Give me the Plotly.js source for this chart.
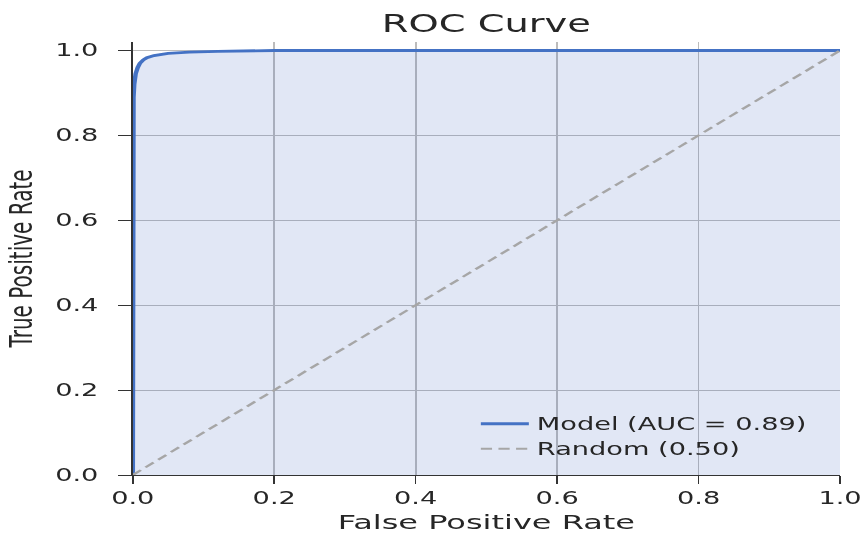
<!DOCTYPE html>
<html>
<head>
<meta charset="utf-8">
<script src="https://cdn.plot.ly/plotly-3.0.1.min.js"></script>
<style>
  html, body { margin: 0; padding: 0; overflow: hidden; background: #ffffff; }
  #wrap { width: 861px; height: 534px; overflow: hidden; }
  #plot { width: 538px; height: 534px; transform: scaleX(1.6); transform-origin: 0 0; }
  #plot .main-svg { overflow: visible; }
</style>
</head>
<body>
<div id="wrap"><div id="plot"></div></div>
<script>
// ROC curve points
const fpr = [0, 0, 0.0005, 0.001, 0.002, 0.004, 0.007, 0.01, 0.015, 0.02, 0.03, 0.05, 0.08, 0.12, 0.2, 0.4, 1.0];
const tpr = [0, 0.60, 0.85, 0.89, 0.92, 0.945, 0.96, 0.97, 0.978, 0.983, 0.988, 0.993, 0.996, 0.998, 1.0, 1.0, 1.0];
// Random classifier diagonal
const randX = [0, 1];
const randY = [0, 1];
const modelName = "Model (AUC = 0.89)";
const randomName = "Random (0.50)";
const tickVals = [0, 0.2, 0.4, 0.6, 0.8, 1.0];
const tickText = ["0.0", "0.2", "0.4", "0.6", "0.8", "1.0"];

const FONT = "DejaVu Sans, sans-serif";
const TXT = "#262626";

const traces = [
  {
    x: fpr, y: tpr, type: "scatter", mode: "none", showlegend: false, hoverinfo: "skip",
    fill: "tozeroy", fillcolor: "rgba(68,104,190,0.16)"
  },
  {
    x: fpr, y: tpr, type: "scatter", mode: "lines", name: modelName,
    line: { color: "#4472c4", width: 2.8 }
  },
  {
    x: randX, y: randY, type: "scatter", mode: "lines", name: randomName,
    line: { color: "#a6a6a6", width: 2, dash: "7px,4px" }
  }
];

const axisCommon = {
  tickvals: tickVals, ticktext: tickText,
  showgrid: true, gridcolor: "#bcbcbc", gridwidth: 1.1,
  zeroline: false,
  showline: true, linecolor: "#333333", linewidth: 1.1,
  ticks: "outside", ticklen: 8, tickwidth: 1, tickcolor: "#333333",
  tickfont: { family: FONT, size: 17, color: TXT },
  ticklabeloverflow: "allow",
  mirror: false
};

const layout = {
  width: 538, height: 534,
  margin: { l: 83, r: 13, t: 42, b: 59 },
  paper_bgcolor: "#ffffff", plot_bgcolor: "#ffffff",
  title: {
    text: "ROC Curve", x: 0.5, xref: "paper", y: 0.955, yref: "container", yanchor: "middle",
    font: { family: FONT, size: 24, color: TXT }
  },
  xaxis: Object.assign({}, axisCommon, {
    range: [0, 1],
    title: { text: "False Positive Rate", font: { family: FONT, size: 20, color: TXT }, standoff: 7 }
  }),
  yaxis: Object.assign({}, axisCommon, {
    range: [0, 1.02],
    ticklabelstandoff: 9,
    title: { text: "True Positive Rate", font: { family: FONT, size: 20, color: TXT }, standoff: 8 }
  }),
  showlegend: true,
  legend: {
    x: 0.965, xanchor: "right", y: 0.018, yanchor: "bottom",
    bgcolor: "rgba(0,0,0,0)", borderwidth: 0,
    font: { family: FONT, size: 17, color: TXT },
    tracegroupgap: 0
  }
};

Plotly.newPlot("plot", traces, layout, { displayModeBar: false, staticPlot: true });
</script>
</body>
</html>
